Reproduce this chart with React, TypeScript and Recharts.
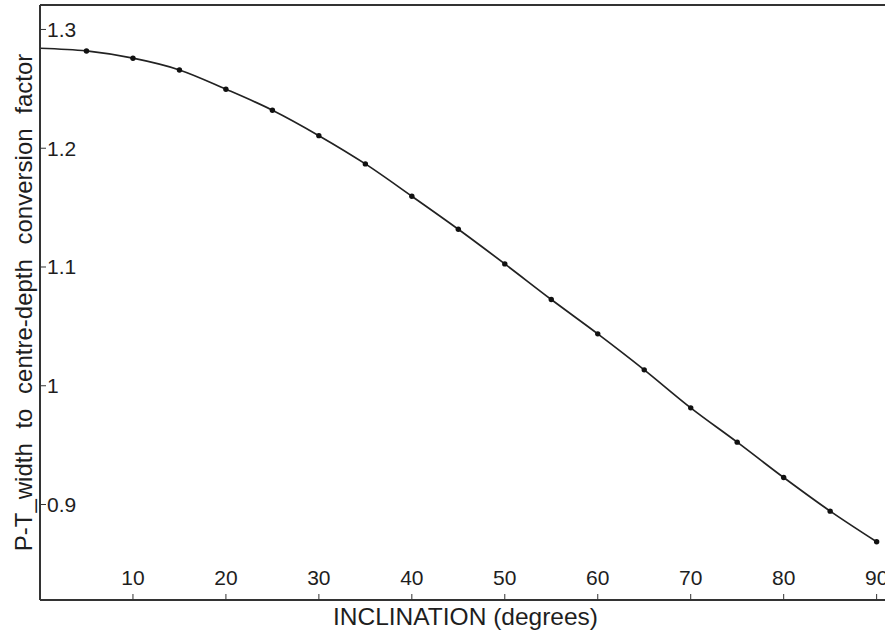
import React from 'react';
import { LineChart, Line, XAxis, YAxis } from 'recharts';

// inclination in degrees, sampled every 5 degrees
const inclination = [0, 5, 10, 15, 20, 25, 30, 35, 40, 45, 50, 55, 60, 65, 70, 75, 80, 85, 90];
// conversion factor at each inclination
const factor = [
  1.2842, 1.2819, 1.2758, 1.2659, 1.2497, 1.232, 1.2106, 1.1868, 1.1596, 1.1318,
  1.1026, 1.0726, 1.0437, 1.0134, 0.9814, 0.9525, 0.9227, 0.8944, 0.8686,
];
const xTicks = [10, 20, 30, 40, 50, 60, 70, 80, 90];
const yTicks = [0.9, 1, 1.1, 1.2, 1.3];

const data = inclination.map((a, i) => ({ angle: a, factor: factor[i] }));

const FONT = '"Liberation Sans", Arial, sans-serif';
const INK = '#1e1e1e';
const AXIS = '#333';

const XTick = (props: any) => {
  const { x, y, payload } = props;
  return (
    <g>
      <line x1={x} y1={y} x2={x} y2={y - 6} stroke={AXIS} strokeWidth={1} />
      <text x={x} y={y - 15} textAnchor="middle" fontFamily={FONT} fontSize={21} fill={INK}>
        {payload.value}
      </text>
    </g>
  );
};

const YTick = (props: any) => {
  const { x, y, payload } = props;
  return (
    <g>
      <line x1={x} y1={y} x2={x + 6} y2={y} stroke={AXIS} strokeWidth={1} />
      <text x={x + 7} y={y + 7.5} textAnchor="start" fontFamily={FONT} fontSize={21} fill={INK}>
        {payload.value}
      </text>
    </g>
  );
};

// no marker at the axis origin, one dot per 5-degree sample otherwise
const Marker = (props: any) => {
  const { cx, cy, payload, index } = props;
  if (payload.angle === 0) return <g key={`m${index}`} />;
  return <circle key={`m${index}`} cx={cx} cy={cy} r={2.7} fill="#111" />;
};

const App: React.FC = () => {
  return (
    <div style={{ position: 'absolute', left: 0, top: 0, width: 885, height: 635, background: '#fff' }}>
      <LineChart width={885} height={635} data={data} margin={{ top: 4, right: 0, bottom: 34, left: 39 }}>
        <XAxis
          dataKey="angle"
          type="number"
          domain={[0, 90.9]}
          ticks={xTicks}
          height={1}
          tickSize={0}
          tickMargin={0}
          tick={<XTick />}
          axisLine={{ stroke: AXIS, strokeWidth: 2 }}
          allowDataOverflow
          label={{
            content: (p: any) => {
              const vb = p.viewBox || {};
              return (
                <text
                  x={vb.x + vb.width / 2 + 3}
                  y={625}
                  textAnchor="middle"
                  fontFamily={FONT}
                  fontSize={24.5}
                  fill={INK}
                >
                  INCLINATION (degrees)
                </text>
              );
            },
          }}
        />
        <XAxis
          xAxisId="top"
          orientation="top"
          dataKey="angle"
          type="number"
          domain={[0, 90.9]}
          height={1}
          tick={false}
          tickLine={false}
          axisLine={{ stroke: AXIS, strokeWidth: 2 }}
        />
        <YAxis
          type="number"
          domain={[0.8196, 1.3206]}
          ticks={yTicks}
          width={1}
          tickSize={0}
          tickMargin={0}
          tick={<YTick />}
          axisLine={{ stroke: AXIS, strokeWidth: 2 }}
          allowDataOverflow
          label={{
            content: (p: any) => {
              const vb = p.viewBox || {};
              const cy = vb.y + vb.height / 2;
              return (
                <text
                  transform={`translate(32, ${cy}) rotate(-90)`}
                  textAnchor="middle"
                  fontFamily={FONT}
                  fontSize={24}
                  fill={INK}
                  style={{ wordSpacing: 8 }}
                >
                  P-T_width to centre-depth conversion factor
                </text>
              );
            },
          }}
        />
        <Line
          type="monotone"
          dataKey="factor"
          stroke="#222"
          strokeWidth={1.7}
          dot={Marker}
          activeDot={false}
          isAnimationActive={false}
        />
      </LineChart>
    </div>
  );
};

export default App;
